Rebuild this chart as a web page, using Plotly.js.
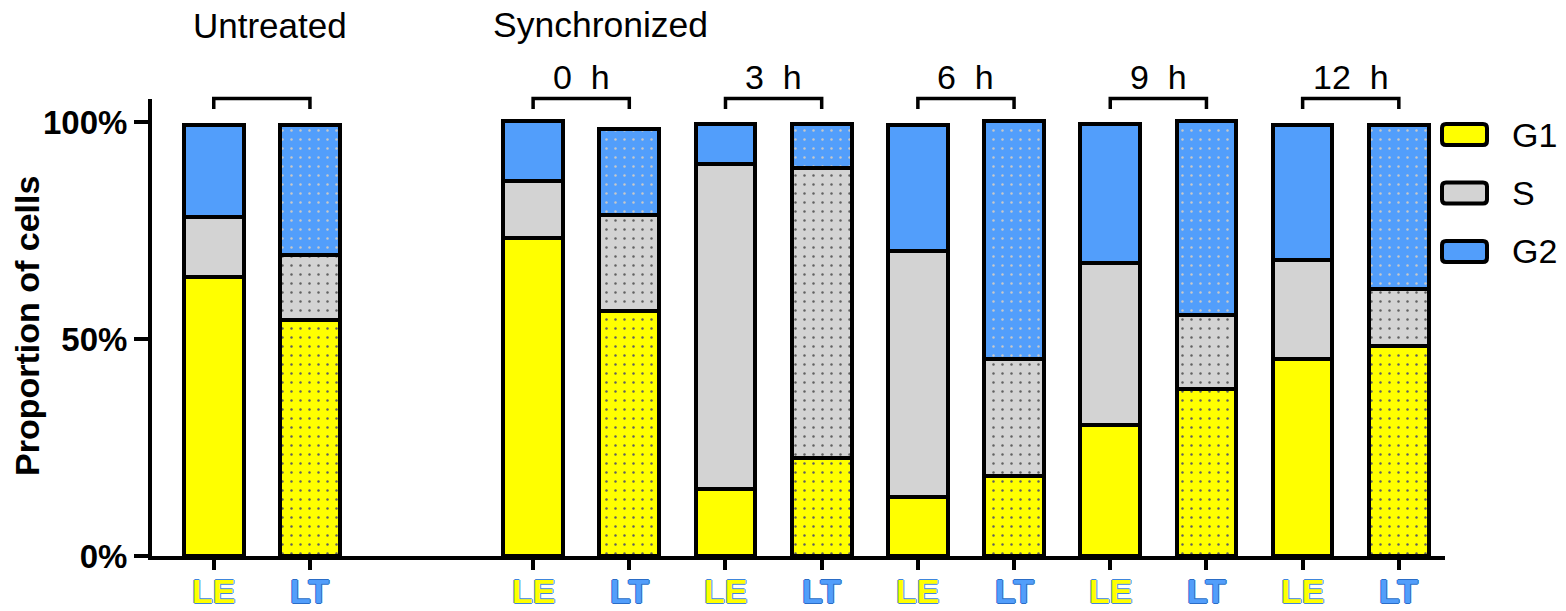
<!DOCTYPE html>
<html>
<head>
<meta charset="utf-8">
<script src="https://cdn.plot.ly/plotly-3.0.1.min.js"></script>
<style>
  html, body { margin: 0; padding: 0; background: #fff; }
  #chart { width: 1566px; height: 611px; }
</style>
</head>
<body>
<div id="chart"></div>
<script>
// Cell-cycle phase distribution (G1 / S / G2) of LE and LT cells,
// untreated and at several times after synchronization.
const conditions = ['Untreated', '0  h', '3  h', '6  h', '9  h', '12  h'];
const cellLines = ['LE', 'LT'];
const phaseNames = ['G1', 'S', 'G2'];

// One value per bar (percent of cells), condition by condition: LE then LT
const g1Values = [64.4, 54.4, 73.3, 56.4, 15.4, 22.5, 13.5, 18.5, 30.3, 38.5, 45.3, 48.5];
const sValues  = [13.8, 14.9, 13.0, 22.1, 75.0, 66.8, 56.8, 26.9, 37.1, 17.0, 23.0, 13.1];
const g2Values = [21.1, 30.0, 14.0, 19.8,  9.1, 10.2, 29.0, 54.8, 32.1, 44.8, 31.0, 37.7];

const yTickValues = [0, 50, 100];
const yTickLabels = ['0%', '50%', '100%'];
const headingUntreated = 'Untreated';
const headingSynchronized = 'Synchronized';
const yTitle = 'Proportion of cells';

// ---- styling -------------------------------------------------------------
const FONT = 'Liberation Sans, Arial, Helvetica, sans-serif';
const phaseColors = ['#FFFF00', '#D3D3D3', '#529EFB'];
const dotColors = ['#606060', '#606060', '#c8c8c8'];
const labelFill = { LE: '#FFFF00', LT: '#529EFB' };
const labelEdge = { LE: '#3f86dc', LT: '#2a6cc6' };

const W = 1566, H = 611;
const M = { l: 152, r: 121, t: 99, b: 55 };
const plotW = W - M.l - M.r, plotH = H - M.t - M.b;
const paperX = px => (px - M.l) / plotW;
const paperY = py => (H - M.b - py) / plotH;
const outline = c => `1px 0 0 ${c}, -1px 0 0 ${c}, 0 1px 0 ${c}, 0 -1px 0 ${c}`;

// Bar positions: pairs of bars, with a wider gap after the untreated pair
const TIME_COURSE_OFFSET = 1.32;
const xPos = [];
const xLineOfBar = [];
conditions.forEach((c, i) => {
  cellLines.forEach((line, j) => {
    xPos.push(2 * i + j + (i > 0 ? TIME_COURSE_OFFSET : 0));
    xLineOfBar.push(line);
  });
});

const valueSets = [g1Values, sValues, g2Values];
const traces = phaseNames.map((name, k) => ({
  type: 'bar',
  name: name,
  x: xPos,
  y: valueSets[k],
  width: 0.62,
  showlegend: false,
  hoverinfo: 'skip',
  marker: {
    color: phaseColors[k],
    line: { color: '#000000', width: 4 },
    pattern: {
      shape: xPos.map((_, n) => (n % 2 ? '.' : '')),
      fgcolor: dotColors[k],
      fgopacity: 1,
      size: 9,
      solidity: 0.06,
      fillmode: 'overlay'
    }
  }
}));

const shapes = [];
const annotations = [];

// Cell-line labels under each bar (filled letters with a blue outline)
xPos.forEach((x, n) => {
  const line = xLineOfBar[n];
  annotations.push({
    xref: 'x', yref: 'paper', x: x, y: paperY(591),
    text: line, showarrow: false, xanchor: 'center', yanchor: 'middle',
    font: { family: FONT, size: 34, weight: 700, color: labelFill[line], shadow: outline(labelEdge[line]) }
  });
});

// Brackets joining the LE/LT pair of each condition, with their labels
conditions.forEach((c, i) => {
  const xa = xPos[2 * i], xb = xPos[2 * i + 1];
  const yTop = paperY(98.5), yFoot = paperY(109);
  shapes.push({
    type: 'path', xref: 'x', yref: 'paper',
    path: `M ${xa},${yFoot} L ${xa},${yTop} L ${xb},${yTop} L ${xb},${yFoot}`,
    line: { color: '#000000', width: 3.5 }
  });
  if (i > 0) {
    annotations.push({
      xref: 'x', yref: 'paper', x: (xa + xb) / 2, y: paperY(77),
      text: c.replace(/ /g, '\u00a0'), showarrow: false,
      xanchor: 'center', yanchor: 'middle',
      font: { family: FONT, size: 34, color: '#000' }
    });
  }
});

annotations.push({
  xref: 'x', yref: 'paper', x: (xPos[0] + xPos[1]) / 2, xshift: 8, y: paperY(25),
  text: headingUntreated, showarrow: false, xanchor: 'center', yanchor: 'middle',
  font: { family: FONT, size: 35, color: '#000' }
});
annotations.push({
  xref: 'x', yref: 'paper', x: xPos[2], xshift: -42, y: paperY(25),
  text: headingSynchronized, showarrow: false, xanchor: 'left', yanchor: 'middle',
  font: { family: FONT, size: 35.5, color: '#000' }
});
annotations.push({
  xref: 'paper', yref: 'paper', x: paperX(27), y: paperY(326),
  text: yTitle, textangle: -90, showarrow: false,
  xanchor: 'center', yanchor: 'middle',
  font: { family: FONT, size: 34, weight: 700, color: '#000' }
});

// Legend: outlined, rounded swatches with phase names
function roundedRect(x0, y0, x1, y1, r) {
  const X = paperX, Y = paperY;
  return [
    `M ${X(x0 + r)},${Y(y0)}`, `L ${X(x1 - r)},${Y(y0)}`,
    `Q ${X(x1)},${Y(y0)} ${X(x1)},${Y(y0 + r)}`, `L ${X(x1)},${Y(y1 - r)}`,
    `Q ${X(x1)},${Y(y1)} ${X(x1 - r)},${Y(y1)}`, `L ${X(x0 + r)},${Y(y1)}`,
    `Q ${X(x0)},${Y(y1)} ${X(x0)},${Y(y1 - r)}`, `L ${X(x0)},${Y(y0 + r)}`,
    `Q ${X(x0)},${Y(y0)} ${X(x0 + r)},${Y(y0)}`, 'Z'
  ].join(' ');
}
const legendTop = 124, legendStep = 58.5, swatchH = 21;
phaseNames.forEach((name, k) => {
  const y0 = legendTop + k * legendStep;
  shapes.push({
    type: 'path', xref: 'paper', yref: 'paper',
    path: roundedRect(1442, y0, 1487, y0 + swatchH, 4),
    fillcolor: phaseColors[k], line: { color: '#000000', width: 4 }
  });
  annotations.push({
    xref: 'paper', yref: 'paper', x: paperX(1510), y: paperY(y0 + swatchH / 2),
    text: name, showarrow: false, xanchor: 'left', yanchor: 'middle',
    font: { family: FONT, size: 34, color: '#000' }
  });
});

const layout = {
  width: W, height: H,
  margin: M,
  paper_bgcolor: '#ffffff', plot_bgcolor: '#ffffff',
  barmode: 'stack',
  showlegend: false,
  font: { family: FONT, color: '#000' },
  xaxis: {
    range: [-0.642, 12.80],
    tickvals: xPos, showticklabels: false,
    ticks: 'outside', ticklen: 10, tickwidth: 4, tickcolor: '#000',
    showline: true, linewidth: 4, linecolor: '#000',
    showgrid: false, zeroline: false
  },
  yaxis: {
    range: [0, 105.3],
    tickvals: yTickValues, ticktext: yTickLabels,
    ticks: 'outside', ticklen: 14, tickwidth: 4, tickcolor: '#000',
    showline: true, linewidth: 4, linecolor: '#000',
    showgrid: false, zeroline: false,
    tickfont: { family: FONT, size: 33, weight: 700, color: '#000' }
  },
  shapes: shapes,
  annotations: annotations
};

Plotly.newPlot('chart', traces, layout, { displayModeBar: false, staticPlot: true });
</script>
</body>
</html>
